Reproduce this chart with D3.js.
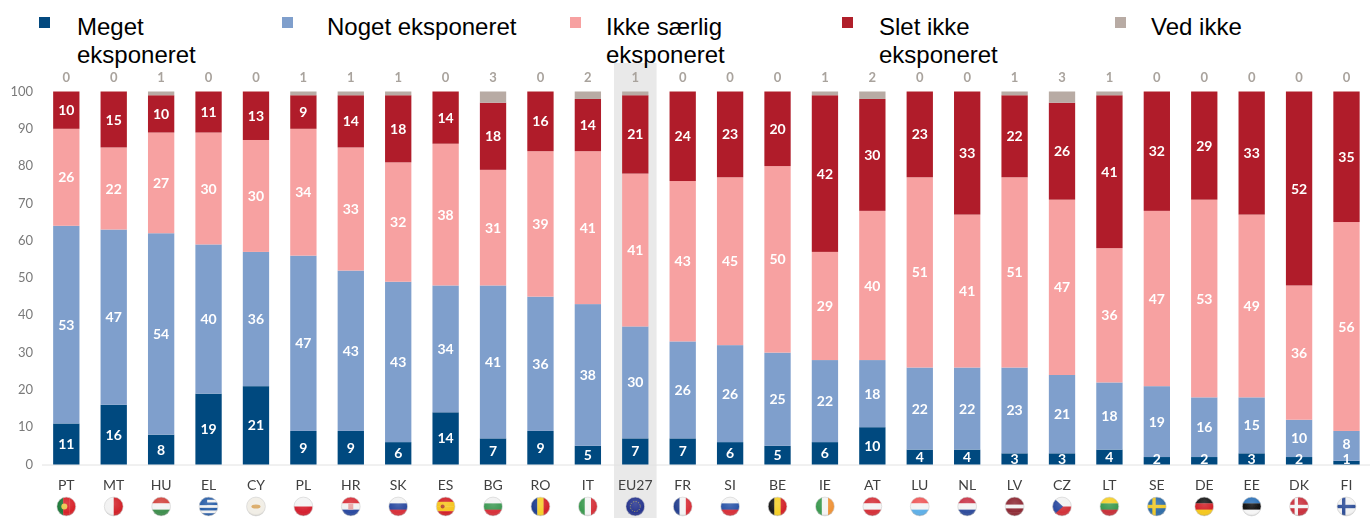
<!DOCTYPE html>
<html>
<head>
<meta charset="utf-8">
<script src="https://cdn.jsdelivr.net/npm/d3@7"></script>
<style>
html, body { margin: 0; padding: 0; background: #fff; overflow: hidden; }
svg { display: block; }
.legend text { font-family: "Liberation Sans", Arial, sans-serif; font-size: 24px; fill: #000; }
.chart text { font-family: Lato, "Open Sans", sans-serif; }
</style>
</head>
<body>
<script>
const countries = ['PT','MT','HU','EL','CY','PL','HR','SK','ES','BG','RO','IT','EU27','FR','SI','BE','IE','AT','LU','NL','LV','CZ','LT','SE','DE','EE','DK','FI'];
const meget   = [11,16,8,19,21,9,9,6,14,7,9,5,7,7,6,5,6,10,4,4,3,3,4,2,2,3,2,1];
const noget   = [53,47,54,40,36,47,43,43,34,41,36,38,30,26,26,25,22,18,22,22,23,21,18,19,16,15,10,8];
const saerlig = [26,22,27,30,30,34,33,32,38,31,39,41,41,43,45,50,29,40,51,41,51,47,36,47,53,49,36,56];
const slet    = [10,15,10,11,13,9,14,18,14,18,16,14,21,24,23,20,42,30,23,33,22,26,41,32,29,33,52,35];
const vedIkke = [0,0,1,0,0,1,1,1,0,3,0,2,1,0,0,0,1,2,0,0,1,3,1,0,0,0,0,0];
const yTicks  = [0,10,20,30,40,50,60,70,80,90,100];

const seriesNames = ['Meget eksponeret','Noget eksponeret','Ikke særlig eksponeret','Slet ikke eksponeret','Ved ikke'];
const seriesValues = [meget, noget, saerlig, slet, vedIkke];
const colors = ['#03497f','#7f9fcc','#f7a1a1','#b01f2a','#b8aba4'];

const w = 1370, h = 518;

const svg = d3.select('body').append('svg')
    .attr('width', w)
    .attr('height', h);

const defs = svg.append('defs');
defs.append('filter').attr('id', 'soft')
    .append('feGaussianBlur').attr('stdDeviation', 0.45);
const gloss = defs.append('radialGradient').attr('id', 'gloss')
    .attr('cx', '50%').attr('cy', '35%').attr('r', '70%');
gloss.append('stop').attr('offset', '0%').attr('stop-color', '#fff').attr('stop-opacity', 0.15);
gloss.append('stop').attr('offset', '70%').attr('stop-color', '#fff').attr('stop-opacity', 0);
gloss.append('stop').attr('offset', '100%').attr('stop-color', '#000').attr('stop-opacity', 0.28);

const x = d3.scaleBand()
    .domain(countries)
    .range([42.6, 1370.2])
    .paddingInner(0.445)
    .paddingOuter(0.2225);
const y = d3.scaleLinear().domain([0, 100]).range([464.5, 91.5]);

const rows = countries.map((c, i) => {
    const row = { country: c };
    seriesNames.forEach((s, j) => { row[s] = seriesValues[j][i]; });
    return row;
});
const stacked = d3.stack().keys(seriesNames)(rows);

const chart = svg.append('g').attr('class', 'chart').attr('filter', 'url(#soft)');

// EU27 highlight behind its column
const euCx = x('EU27') + x.bandwidth() / 2;
chart.append('rect')
    .attr('x', euCx - 21.3).attr('y', 63)
    .attr('width', 42.6).attr('height', h - 63)
    .attr('fill', '#e9e9e9');

// baseline
chart.append('line')
    .attr('x1', 42).attr('x2', w)
    .attr('y1', y(0) + 0.5).attr('y2', y(0) + 0.5)
    .attr('stroke', '#e2e2e2');

// y axis
const yAxis = chart.append('g')
    .attr('transform', 'translate(33,-0.5)')
    .call(d3.axisLeft(y).tickValues(yTicks).tickSize(0).tickPadding(0));
yAxis.select('.domain').remove();
yAxis.selectAll('text')
    .attr('font-size', 13)
    .attr('fill', '#7a7a7a');

// stacked bars
const layers = chart.selectAll('g.layer')
    .data(stacked)
    .join('g')
    .attr('class', 'layer')
    .attr('fill', (d, i) => colors[i]);
layers.selectAll('rect')
    .data(d => d)
    .join('rect')
    .attr('x', d => x(d.data.country))
    .attr('y', d => y(d[1]))
    .attr('width', x.bandwidth())
    .attr('height', d => y(d[0]) - y(d[1]));

// value labels, thin bottom segments push their number upward
const labelLayers = chart.selectAll('g.labels')
    .data(stacked.slice(0, 4))
    .join('g')
    .attr('class', 'labels');
labelLayers.selectAll('text')
    .data(d => d.map(v => Object.assign([v[0], v[1]], { data: v.data, layer: d.index })))
    .join('text')
    .attr('x', d => x(d.data.country) + x.bandwidth() / 2)
    .attr('y', d => Math.min(y((d[0] + d[1]) / 2), d.layer === 0 ? 459 : 443.5))
    .attr('dy', '0.36em')
    .attr('text-anchor', 'middle')
    .attr('font-size', 14)
    .attr('font-weight', 700)
    .attr('fill', '#fff')
    .text(d => d[1] - d[0]);

// "ved ikke" row above the bars
chart.append('g').selectAll('text')
    .data(vedIkke)
    .join('text')
    .attr('x', (d, i) => x(countries[i]) + x.bandwidth() / 2)
    .attr('y', 77)
    .attr('dy', '0.36em')
    .attr('text-anchor', 'middle')
    .attr('font-size', 13)
    .attr('font-weight', 700)
    .attr('fill', '#a9a39d')
    .text(d => d);

// country codes
const xAxis = chart.append('g')
    .attr('transform', `translate(0,${y(0)})`)
    .call(d3.axisBottom(x).tickSize(0).tickPadding(0));
xAxis.select('.domain').remove();
xAxis.selectAll('text')
    .attr('y', 20.5)
    .attr('dy', '0.36em')
    .attr('font-size', 14)
    .attr('fill', '#404040');

// flags: simple bands, then a few extras for the ones with a cross or an emblem
const flagBands = {
    PT: ['v', '#1f7a3a', '#d8232a', '#d8232a'], MT: ['v', '#f2f2f2', '#d2232a'], HU: ['h', '#d2453f', '#f4f4f4', '#3f8f4e'],
    EL: ['h', '#2a5fa8', '#f2f2f2', '#2a5fa8', '#f2f2f2', '#2a5fa8', '#f2f2f2', '#2a5fa8'], CY: ['h', '#f1eee6'],
    PL: ['h', '#f4f4f4', '#d5202f'], HR: ['h', '#d8303a', '#f2f2f2', '#2b4aa0'], SK: ['h', '#f2f2f2', '#2b4aa0', '#d8303a'],
    ES: ['h', '#d2232a', '#f6c51f', '#f6c51f', '#d2232a'], BG: ['h', '#f2f2f2', '#3f9a55', '#d8303a'], RO: ['v', '#20408f', '#f5d02a', '#d2232a'],
    IT: ['v', '#3c9a50', '#f4f4f4', '#d5323a'], EU27: ['h', '#28368f'], FR: ['v', '#25408f', '#f4f4f4', '#d8303a'],
    SI: ['h', '#f4f4f4', '#2b55a8', '#d8303a'], BE: ['v', '#1a1a1a', '#f5d02a', '#d2232a'], IE: ['v', '#3c9a50', '#f4f4f4', '#ef9338'],
    AT: ['h', '#d5323a', '#f4f4f4', '#d5323a'], LU: ['h', '#ee5a5a', '#f4f4f4', '#5fb0e8'], NL: ['h', '#c9374a', '#f4f4f4', '#2f4d9c'],
    LV: ['h', '#8e2a35', '#8e2a35', '#f2f2f2', '#8e2a35', '#8e2a35'], CZ: ['h', '#f2f2f2', '#d2323a'], LT: ['h', '#f5d02a', '#3c9a50', '#c8323a'],
    SE: ['h', '#2f6da8'], DE: ['h', '#1a1a1a', '#d2232a', '#f5c81f'], EE: ['h', '#2f73b8', '#111', '#f6f6f6'],
    DK: ['h', '#c9323f'], FI: ['h', '#f2f2f2']
};
const flagCross = { SE: '#f0c92a', DK: '#f4f4f4', FI: '#2f4f98' };
const flagR = 9.4;

const flags = chart.selectAll('g.flag')
    .data(countries)
    .join('g')
    .attr('class', 'flag')
    .attr('transform', d => `translate(${x(d) + x.bandwidth() / 2},506.5)`);

flags.each(function(code, i) {
    const g = d3.select(this);
    defs.append('clipPath').attr('id', 'clip' + i)
        .append('circle').attr('r', flagR);
    const clip = g.append('g').attr('clip-path', `url(#clip${i})`);
    const [dir, ...bands] = flagBands[code];
    const n = bands.length, size = 2 * flagR / n;
    bands.forEach((col, k) => {
        const pos = -flagR + k * size;
        clip.append('rect')
            .attr('x', dir === 'v' ? pos : -flagR)
            .attr('y', dir === 'h' ? pos : -flagR)
            .attr('width', dir === 'v' ? size + 0.3 : 2 * flagR)
            .attr('height', dir === 'h' ? size + 0.3 : 2 * flagR)
            .attr('fill', col);
    });
    if (flagCross[code]) {
        clip.append('rect').attr('x', -flagR).attr('y', -1.7).attr('width', 2 * flagR).attr('height', 3.4).attr('fill', flagCross[code]);
        clip.append('rect').attr('x', -4.5).attr('y', -flagR).attr('width', 3.4).attr('height', 2 * flagR).attr('fill', flagCross[code]);
    }
    if (code === 'EL') clip.append('rect').attr('x', -flagR).attr('y', -flagR).attr('width', 8).attr('height', 8).attr('fill', '#2a5fa8');
    if (code === 'CZ') clip.append('path').attr('d', 'M-10,-10L1,0L-10,10Z').attr('fill', '#2b4aa0');
    if (code === 'CY') clip.append('ellipse').attr('rx', 4.5).attr('ry', 2).attr('fill', '#d9a760');
    if (code === 'PT') clip.append('circle').attr('cx', -2).attr('r', 3).attr('fill', '#e6c84a');
    if (code === 'ES') clip.append('circle').attr('cx', -3).attr('r', 2).attr('fill', '#b5452a');
    if (code === 'EU27') clip.append('circle').attr('r', 5).attr('fill', 'none').attr('stroke', '#d9c94a').attr('stroke-width', 0.8).attr('stroke-dasharray', '1 1.6');
    if (code === 'HR') clip.append('rect').attr('x', -2.5).attr('y', -3).attr('width', 5).attr('height', 6).attr('fill', '#e9a0a0');
    g.append('circle').attr('r', flagR).attr('fill', 'url(#gloss)');
    g.append('circle').attr('r', flagR).attr('fill', 'none').attr('stroke', '#cfcfcf').attr('stroke-width', 0.6);
});

// legend
const legendSwatchX = [39, 282, 570, 842, 1115];
const legendTextX = [77, 327, 606, 879, 1151];
const legendLines = [['Meget','eksponeret'],['Noget eksponeret'],['Ikke særlig','eksponeret'],['Slet ikke','eksponeret'],['Ved ikke']];

const legend = svg.append('g').attr('class', 'legend');
legend.selectAll('rect')
    .data(seriesNames)
    .join('rect')
    .attr('x', (d, i) => legendSwatchX[i])
    .attr('y', 17)
    .attr('width', 11)
    .attr('height', 11)
    .attr('fill', (d, i) => colors[i]);
legend.selectAll('text')
    .data(legendLines)
    .join('text')
    .attr('y', 35)
    .each(function(lines, i) {
        d3.select(this).selectAll('tspan')
            .data(lines)
            .join('tspan')
            .attr('x', legendTextX[i])
            .attr('dy', (d, k) => k ? 28 : 0)
            .text(d => d);
    });
</script>
</body>
</html>
